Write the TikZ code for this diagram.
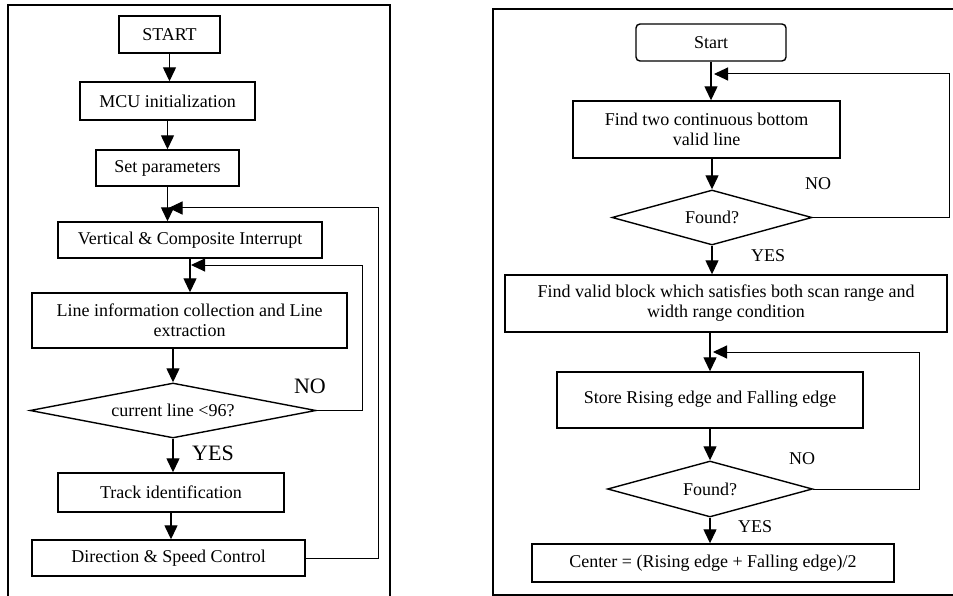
\documentclass[tikz,border=0pt]{standalone}
\usepackage{fontspec}
\setmainfont{Liberation Serif}
\usepackage{tikz}
\usetikzlibrary{shapes.geometric}
\usetikzlibrary{arrows.meta}
\usetikzlibrary{positioning}

\begin{document}
\begin{tikzpicture}
          [x=1pt, y=-1pt,
           every node/.style={inner sep=0pt, font=\fontsize{18}{20}\selectfont},
           box/.style={draw, line width=1.4pt, align=center},
           rbox/.style={box, rounded corners=4pt},
           decide/.style={draw, diamond, line width=1.4pt, aspect=5},
           flow/.style={-{Triangle[length=14pt, width=13pt]}, line width=1.3pt},
           back/.style={-{Triangle[length=14pt, width=13pt]}, line width=1pt},
           bigtag/.style={font=\fontsize{22}{24}\selectfont},
           tag/.style={font=\fontsize{18}{20}\selectfont}]
          \useasboundingbox (0,0) rectangle (953,596);
          \draw[line width=1.2pt] (8,596) -- (8,5) -- (390,5) -- (390,596);
          \draw[line width=1.2pt] (953,9) -- (493,9) -- (493,595) -- (953,595);

          % left chart
          \node (start) [box, minimum width=101pt, minimum height=37pt] at (169.5,34.5) {START};
          \node (mcu) [box, minimum width=175pt, minimum height=38pt] at (167.5,101) {MCU initialization};
          \node (setp) [box, minimum width=143pt, minimum height=36pt] at (167.5,168) {Set parameters};
          \node (vert) [box, minimum width=264pt, minimum height=36pt] at (190,240) {Vertical \& Composite Interrupt};
          \node (info) [box, minimum width=315pt, minimum height=55pt] at (189.5,320.5) {Line information collection and Line\\extraction};
          \node (less) [decide, minimum width=286pt, minimum height=55pt] at (173,410.5) {current line <96?};
          \node (track) [box, minimum width=226pt, minimum height=39pt] at (171,492.5) {Track identification};
          \node (dir) [box, minimum width=273pt, minimum height=36pt] at (168.5,558) {Direction \& Speed Control};
          \node (no1) [bigtag] at (310,386) {NO};
          \node (yes1) [bigtag] at (213,453) {YES};

          \coordinate (j1) at (setp.south |- 0,208);
          \coordinate (r1) at (378,208);
          \coordinate (j2) at (vert.south |- 0,265);
          \coordinate (r2) at (362,265);

          \draw[flow] (start.south) -- (start.south |- mcu.north);
          \draw[flow] (mcu.south -| setp.north) -- (setp.north);
          \draw[flow] (setp.south) -- (setp.south |- vert.north);
          \draw[flow] (vert.south) -- (vert.south |- info.north);
          \draw[flow] (info.south -| less.north) -- (less.north);
          \draw[flow] (less.south) -- (less.south |- track.north);
          \draw[flow] (track.south) -- (track.south |- dir.north);
          \draw[back] (less.east) -| (r2) -- ([xshift=1pt]j2);
          \draw[back] (dir.east) -| (r1) -- ([xshift=1pt]j1);

          % right chart
          \node (begin) [rbox, minimum width=150pt, minimum height=37pt] at (711,42.5) {Start};
          \node (bottom) [box, minimum width=267pt, minimum height=57pt] at (706.5,129.5) {Find two continuous bottom\\valid line};
          \node (found1) [decide, minimum width=200pt, minimum height=55pt] at (712,217.5) {Found?};
          \node (block) [box, minimum width=442pt, minimum height=57pt] at (726,303.5) {Find valid block which satisfies both scan range and\\width range condition};
          \node (store) [box, minimum width=306pt, minimum height=56pt] at (710,400) {\raisebox{6pt}{Store Rising edge and Falling edge}};
          \node (found2) [decide, minimum width=205pt, minimum height=56pt] at (710,489) {Found?};
          \node (center) [box, minimum width=362pt, minimum height=38pt] at (713,563) {Center = (Rising edge + Falling edge)/2};
          \node (no2) [tag] at (818,184) {NO};
          \node (yes2) [tag] at (768,256) {YES};
          \node (no3) [tag] at (802,459) {NO};
          \node (yes3) [tag] at (755,527) {YES};

          \coordinate (j3) at (begin.south |- 0,74);
          \coordinate (r3) at (949,74);
          \coordinate (j4) at (store.north -| found2.north);
          \coordinate (r4) at (919,352);

          \draw[flow] (begin.south) -- (begin.south |- bottom.north);
          \draw[flow] (bottom.south -| found1.north) -- (found1.north);
          \draw[flow] (found1.south) -- (found1.south |- block.north);
          \draw[flow] (block.south -| found2.north) -- (j4);
          \draw[flow] (store.south -| found2.north) -- (found2.north);
          \draw[flow] (found2.south) -- (found2.south |- center.north);
          \draw[back] (found1.east) -| (r3) -- ([xshift=3pt]j3);
          \draw[back] (found2.east) -| (r4) -- ([xshift=3pt]j4 |- r4);
        \end{tikzpicture}
\end{document}
